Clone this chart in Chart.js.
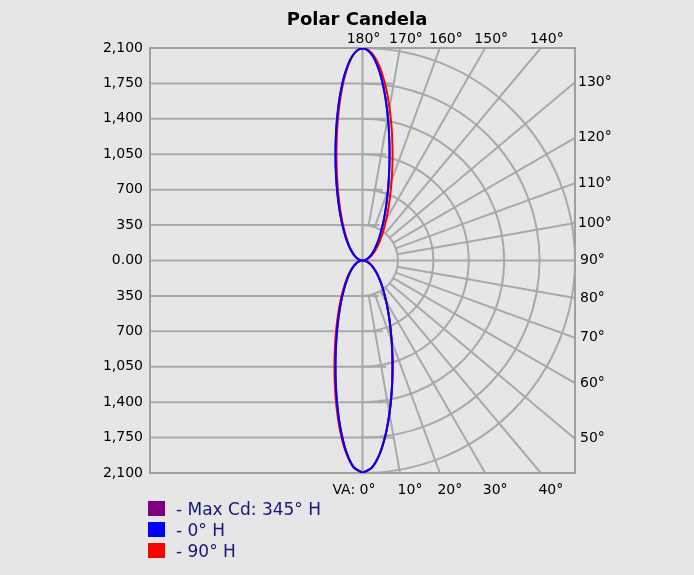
<!DOCTYPE html>
<html>
<head>
<meta charset="utf-8">
<script src="https://cdn.jsdelivr.net/npm/chart.js@4.4.1/dist/chart.umd.min.js"></script>
<style>
  body { margin: 0; background: #e6e6e6; }
  #wrap { position: relative; width: 694px; height: 575px; }
  #title { position: absolute; left: 0; width: 714px; top: 8px; text-align: center;
           font: bold 18px "DejaVu Sans", sans-serif; color: #000; }
  #legend { position: absolute; left: 148px; top: 498px; font: 17px "DejaVu Sans", sans-serif; color: #15157a; }
  .row { height: 21px; display: flex; align-items: center; }
  .sw { width: 17px; height: 15px; margin-right: 11px; }
</style>
</head>
<body>
<div id="wrap">
  <canvas id="chart" width="694" height="575"></canvas>
  <div id="title">Polar Candela</div>
  <div id="legend"></div>
</div>
<script>
// vertical angles (VA), 0 = straight down, 180 = straight up
const vaAngles = [0, 2.5, 5, 7.5, 10, 12.5, 15, 17.5, 20, 22.5, 25, 27.5, 30, 35, 40, 45, 50, 55, 60, 65, 70, 75, 80, 85, 90,
    95, 100, 105, 110, 115, 120, 125, 130, 135, 140, 145, 150, 152.5, 155, 157.5, 160, 162.5, 165, 167.5, 170, 172.5, 175, 177.5, 180];

// candela, right half of the plot (H plane) and left half (opposite plane)
const cd0H = [2100, 2053, 1925, 1741, 1536, 1333, 1146, 983, 842, 723, 624, 540, 470, 360, 280, 220, 174, 138, 109, 85, 64, 46, 30, 15, 0,
    12, 24, 38, 52, 69, 89, 113, 143, 181, 231, 300, 395, 457, 533, 624, 735, 870, 1032, 1224, 1442, 1672, 1886, 2042, 2095];
const cd180H = [2100, 2042, 1886, 1672, 1442, 1224, 1032, 870, 735, 624, 533, 457, 395, 300, 231, 181, 143, 113, 89, 69, 52, 38, 24, 12, 0,
    12, 24, 38, 52, 68, 88, 112, 142, 180, 230, 298, 392, 455, 531, 622, 733, 868, 1030, 1222, 1440, 1670, 1884, 2040, 2095];
const cd90H = [2095, 2050, 1920, 1738, 1530, 1330, 1142, 980, 840, 720, 622, 538, 468, 358, 279, 219, 173, 137, 108, 84, 63, 45, 30, 15, 0,
    15, 30, 46, 64, 85, 109, 138, 174, 220, 280, 360, 470, 540, 624, 723, 842, 983, 1146, 1333, 1536, 1741, 1925, 2053, 2100];
const cd270H = [2095, 2046, 1900, 1697, 1475, 1262, 1072, 908, 771, 657, 563, 485, 420, 319, 247, 194, 153, 121, 95, 74, 56, 40, 26, 13, 0,
    11, 23, 35, 49, 64, 83, 105, 133, 169, 216, 280, 371, 430, 502, 590, 698, 830, 991, 1184, 1406, 1645, 1871, 2038, 2100];
const cd345H = [2099, 2052, 1924, 1740, 1535, 1332, 1145, 982, 841, 722, 623, 539, 469, 359, 279, 219, 173, 137, 108, 84, 63, 45, 29, 15, 0,
    12, 24, 38, 52, 68, 88, 112, 142, 180, 230, 299, 394, 456, 532, 623, 734, 869, 1031, 1223, 1441, 1671, 1885, 2041, 2094];
const cd165H = [2099, 2041, 1885, 1671, 1441, 1223, 1031, 869, 734, 623, 532, 456, 394, 299, 230, 180, 142, 112, 88, 68, 51, 37, 23, 12, 0,
    12, 23, 37, 51, 67, 87, 111, 141, 179, 229, 297, 391, 454, 530, 621, 732, 867, 1029, 1221, 1439, 1669, 1883, 2039, 2094];

const cdMax = 2100;
const cdStep = 350;
const gridRings = [350, 700, 1050, 1400, 1750, 2100];
const gridRays = [10, 20, 30, 40, 50, 60, 70, 80, 100, 110, 120, 130, 140, 150, 160, 170];
const topAngleLabels = [180, 170, 160, 150, 140];
const rightAngleLabels = [130, 120, 110, 100, 90, 80, 70, 60, 50];
const bottomAngleLabels = [0, 10, 20, 30, 40];

const legendItems = [
    { label: '- Max Cd: 345° H', color: '#800080' },
    { label: '- 0° H', color: '#0000ff' },
    { label: '- 90° H', color: '#ff0000' },
];

const rad = (deg) => deg * Math.PI / 180;

// right plane goes VA 0 -> 180 on the right, opposite plane comes back 180 -> 0 on the left
const planePoints = (rightCd, leftCd) => {
    const pts = vaAngles.map((va, i) => ({ x: rightCd[i] * Math.sin(rad(va)), y: -rightCd[i] * Math.cos(rad(va)) }));
    for (let i = vaAngles.length - 2; i >= 0; i--) {
        const va = vaAngles[i];
        pts.push({ x: -leftCd[i] * Math.sin(rad(va)), y: -leftCd[i] * Math.cos(rad(va)) });
    }
    return pts;
};

// end of a ray at the plot border, in data units
const rayEnd = (va) => {
    const dx = Math.sin(rad(va)), dy = -Math.cos(rad(va));
    const t = cdMax / Math.max(Math.abs(dx), Math.abs(dy));
    return { x: t * dx, y: t * dy };
};

const gridColor = '#a8a8a8';

const polarGrid = {
    id: 'polarGrid',
    beforeDatasetsDraw(chart) {
        const { ctx, chartArea: a, scales: { x, y } } = chart;
        const cx = x.getPixelForValue(0), cy = y.getPixelForValue(0);
        ctx.save();
        ctx.beginPath();
        ctx.rect(a.left, a.top, a.right - a.left, a.bottom - a.top);
        ctx.clip();
        ctx.strokeStyle = gridColor;
        ctx.lineWidth = 2;

        // horizontal candela lines on the left half
        for (let v = -cdMax + cdStep; v < cdMax; v += cdStep) {
            if (v === 0) continue;
            ctx.beginPath();
            ctx.moveTo(a.left, y.getPixelForValue(v));
            ctx.lineTo(x.getPixelForValue(0.1 * Math.abs(v) + 130), y.getPixelForValue(v));
            ctx.stroke();
        }
        // 90 deg line and vertical axis
        ctx.beginPath();
        ctx.moveTo(a.left, cy); ctx.lineTo(a.right, cy);
        ctx.moveTo(cx, a.top); ctx.lineTo(cx, a.bottom);
        ctx.stroke();

        // rings on the right half
        gridRings.forEach(r => {
            const rp = x.getPixelForValue(r) - cx;
            ctx.beginPath();
            ctx.arc(cx, cy, rp, -Math.PI / 2, Math.PI / 2);
            ctx.stroke();
        });

        // rays
        gridRays.forEach(va => {
            const e = rayEnd(va);
            const s = gridRings[0];
            ctx.beginPath();
            ctx.moveTo(x.getPixelForValue(s * Math.sin(rad(va))), y.getPixelForValue(-s * Math.cos(rad(va))));
            ctx.lineTo(x.getPixelForValue(e.x), y.getPixelForValue(e.y));
            ctx.stroke();
        });
        ctx.restore();

        ctx.save();
        ctx.strokeStyle = '#a0a0a0';
        ctx.lineWidth = 2;
        ctx.strokeRect(a.left, a.top, a.right - a.left, a.bottom - a.top);
        ctx.restore();
    },
    afterDatasetsDraw(chart) {
        const { ctx, chartArea: a, scales: { x, y } } = chart;
        ctx.save();
        ctx.fillStyle = '#000';
        ctx.font = '14px "DejaVu Sans"';
        ctx.textBaseline = 'middle';

        ctx.textAlign = 'center';
        topAngleLabels.forEach(va => {
            const e = rayEnd(va);
            const px = x.getPixelForValue(e.x) + (va === 180 ? 1 : 6);
            ctx.fillText(va + '°', px, a.top - 9);
        });

        ctx.textAlign = 'left';
        rightAngleLabels.forEach(va => {
            const e = rayEnd(va);
            ctx.fillText(va + '°', a.right + (va > 90 ? 3 : 5), y.getPixelForValue(e.y));
        });

        bottomAngleLabels.forEach(va => {
            const e = rayEnd(va);
            const px = x.getPixelForValue(e.x);
            if (va === 0) {
                ctx.textAlign = 'right';
                ctx.fillText('VA: 0°', px + 13, a.bottom + 17);
            } else {
                ctx.textAlign = 'center';
                ctx.fillText(va + '°', px + 10, a.bottom + 17);
            }
        });
        ctx.restore();
    }
};

const lineStyle = (color) => ({
    borderColor: color,
    backgroundColor: color,
    borderWidth: 2,
    showLine: true,
    pointRadius: 0,
    tension: 0.35,
    fill: false,
});

new Chart(document.getElementById('chart'), {
    type: 'scatter',
    data: {
        datasets: [
            { label: 'Max Cd: 345° H', data: planePoints(cd345H, cd165H), order: 3, ...lineStyle('#800080') },
            { label: '0° H', data: planePoints(cd0H, cd180H), order: 1, ...lineStyle('#0000ff') },
            { label: '90° H', data: planePoints(cd90H, cd270H), order: 2, ...lineStyle('#ff0000') },
        ]
    },
    options: {
        responsive: false,
        animation: false,
        layout: { padding: { left: 0, top: 48, right: 119, bottom: 102 } },
        scales: {
            x: { type: 'linear', min: -cdMax, max: cdMax, display: false },
            y: {
                type: 'linear',
                min: -cdMax,
                max: cdMax,
                position: 'left',
                grid: { display: false, drawTicks: false },
                border: { display: false },
                ticks: {
                    stepSize: cdStep,
                    padding: 7,
                    color: '#000',
                    font: { family: 'DejaVu Sans', size: 14 },
                    autoSkip: false,
                    callback: (v) => v === 0 ? '0.00' : Math.abs(v).toLocaleString('en-US'),
                },
                afterFit: (s) => { s.width = 150; },
            }
        },
        plugins: {
            legend: { display: false },
            tooltip: { enabled: false },
        }
    },
    plugins: [polarGrid]
});

const legendBox = document.getElementById('legend');
legendItems.forEach(item => {
    const row = document.createElement('div');
    row.className = 'row';
    row.innerHTML = `<span class="sw" style="background:${item.color}"></span><span>${item.label}</span>`;
    legendBox.appendChild(row);
});
</script>
</body>
</html>
